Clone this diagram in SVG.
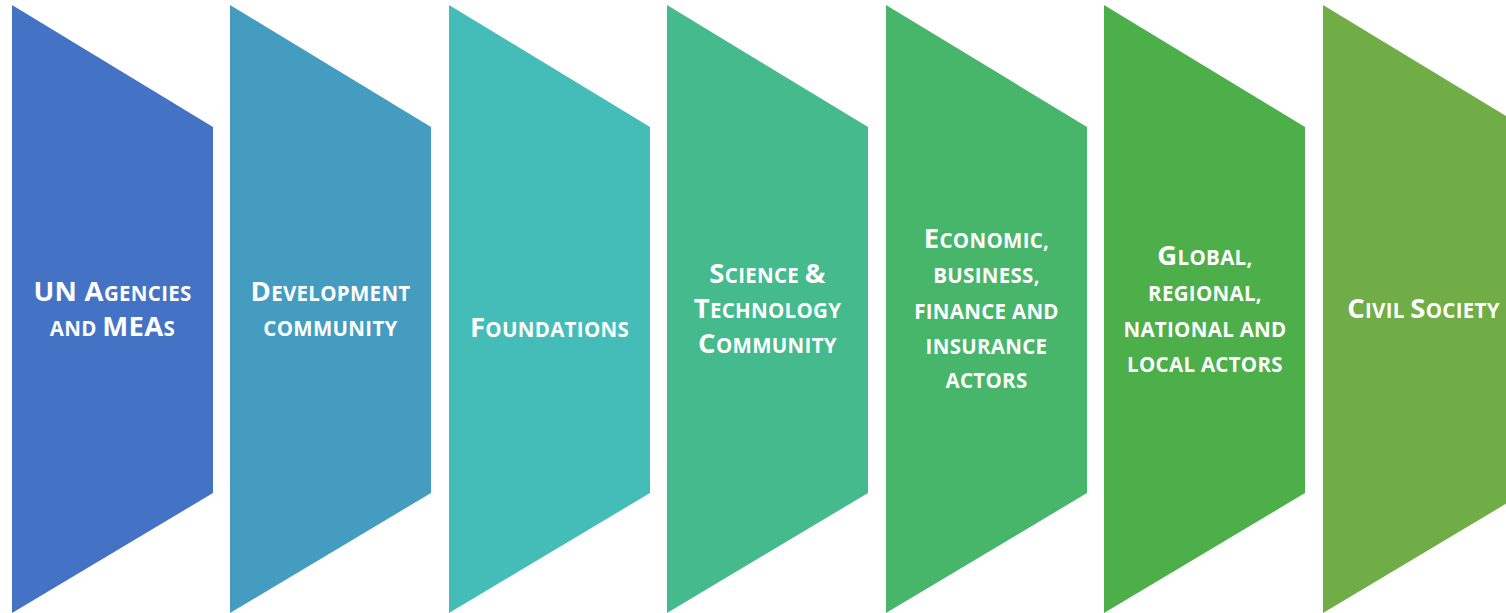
<svg xmlns="http://www.w3.org/2000/svg" width="1506" height="613" viewBox="0 0 1506 613">
<style>
  .lbl { font-family: "Open Sans", "Liberation Sans", sans-serif; font-weight: bold; fill: #ffffff; text-anchor: middle; font-size: 20.5px; letter-spacing: 0.3px; }
  .b { font-size: 27.5px; }
</style>
<defs>
  <polygon id="shape" points="0,5 201,127 201,493 0,613"/>
</defs>
<rect width="1506" height="613" fill="#ffffff"/>
<g id="node1">
  <use href="#shape" x="12" fill="#4472C4"/>
  <text class="lbl" x="112.5" y="301"><tspan class="b">UN A</tspan>GENCIES</text>
  <text class="lbl" x="112.5" y="336">AND <tspan class="b">MEA</tspan>S</text>
</g>
<g id="node2">
  <use href="#shape" x="230" fill="#449CC1"/>
  <text class="lbl" x="330.5" y="301"><tspan class="b">D</tspan>EVELOPMENT</text>
  <text class="lbl" x="330.5" y="336">COMMUNITY</text>
</g>
<g id="node3">
  <use href="#shape" x="449" fill="#44BDB9"/>
  <text class="lbl" x="549.5" y="337"><tspan class="b">F</tspan>OUNDATIONS</text>
</g>
<g id="node4">
  <use href="#shape" x="667" fill="#44BA8D"/>
  <text class="lbl" x="767.5" y="283"><tspan class="b">S</tspan>CIENCE <tspan class="b">&amp;</tspan></text>
  <text class="lbl" x="767.5" y="318"><tspan class="b">T</tspan>ECHNOLOGY</text>
  <text class="lbl" x="767.5" y="353"><tspan class="b">C</tspan>OMMUNITY</text>
</g>
<g id="node5">
  <use href="#shape" x="886" fill="#47B56A"/>
  <text class="lbl" x="986.5" y="248"><tspan class="b">E</tspan>CONOMIC,</text>
  <text class="lbl" x="986.5" y="283">BUSINESS,</text>
  <text class="lbl" x="986.5" y="319">FINANCE AND</text>
  <text class="lbl" x="986.5" y="354">INSURANCE</text>
  <text class="lbl" x="986.5" y="388">ACTORS</text>
</g>
<g id="node6">
  <use href="#shape" x="1104" fill="#4CAF4A"/>
  <text class="lbl" x="1205" y="265"><tspan class="b">G</tspan>LOBAL,</text>
  <text class="lbl" x="1205" y="300.5">REGIONAL,</text>
  <text class="lbl" x="1205" y="336.5">NATIONAL AND</text>
  <text class="lbl" x="1205" y="371.5">LOCAL ACTORS</text>
</g>
<g id="node7">
  <use href="#shape" x="1323" fill="#70AD47"/>
  <text class="lbl" x="1423.5" y="318"><tspan class="b">C</tspan>IVIL <tspan class="b">S</tspan>OCIETY</text>
</g>
<g id="connectors"></g>
</svg>
